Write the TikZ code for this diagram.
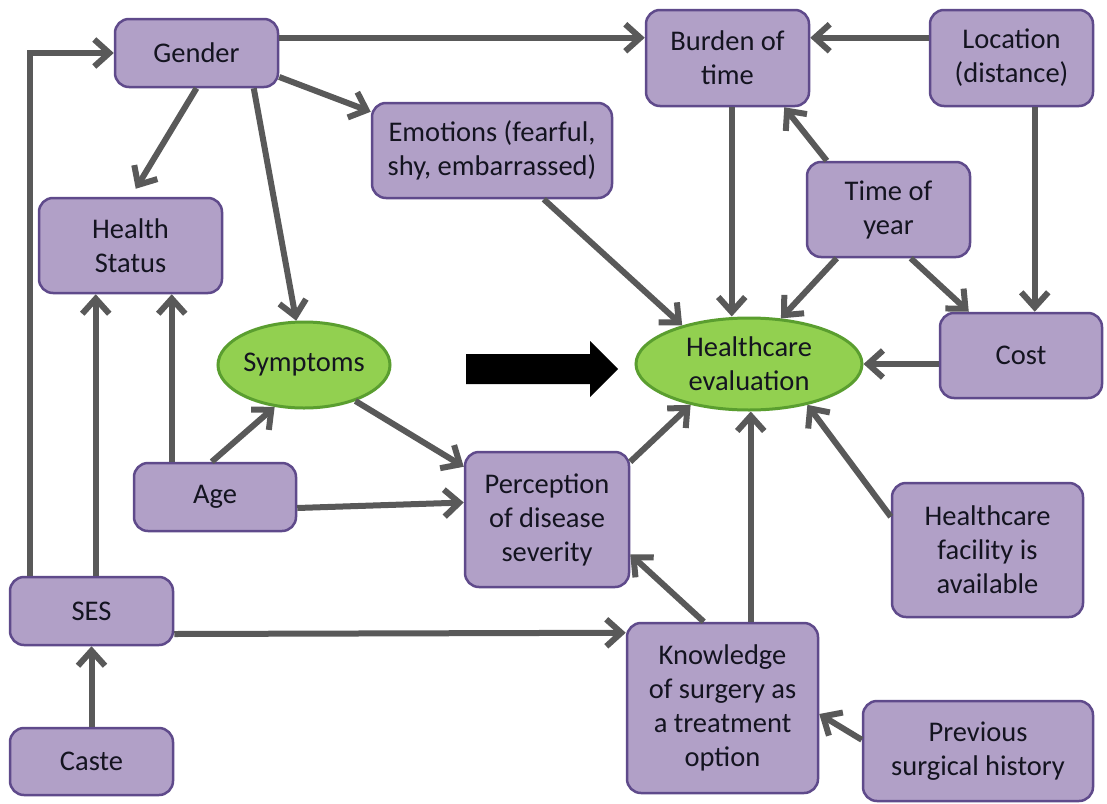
\documentclass[tikz,border=0pt]{standalone}
\usepackage{fontspec}
\setmainfont{Carlito}
\usetikzlibrary{arrows.meta,shapes.geometric,calc}
\definecolor{boxfill}{HTML}{B1A0C7}
\definecolor{boxline}{HTML}{5F4A8B}
\definecolor{ovalfill}{HTML}{92D050}
\definecolor{ovalline}{HTML}{5A9E2F}
\definecolor{linkgray}{HTML}{595959}
\definecolor{labeltext}{HTML}{141420}
\begin{document}
\begin{tikzpicture}[x=1pt,y=-1pt,
  every node/.style={font=\fontsize{28.5}{34}\selectfont, text=labeltext, align=center},
  sz/.style 2 args={minimum width=#1pt, minimum height=#2pt},
  box/.style={draw=boxline, fill=boxfill, line width=2.5pt, rounded corners=14pt, inner sep=0pt},
  oval/.style={ellipse, draw=ovalline, fill=ovalfill, line width=3pt, inner sep=0pt},
  link/.style={draw=linkgray, line width=6pt, -{Straight Barb[length=15pt,width=27pt]}},
]
\useasboundingbox (0,0) rectangle (1107,803);
\fill[white] (0,0) rectangle (1107,803);

% factor boxes
\node[box, sz={163}{68}]  (gender)    at (196.5,53)   {Gender};
\node[box, sz={163}{96}]  (burden)    at (727.5,58)   {Burden of\\time};
\node[box, sz={163}{96}]  (location)  at (1011.5,58)  {Location\\(distance)};
\node[box, sz={240}{95}]  (emotions)  at (492,150.5)  {Emotions (fearful,\\shy, embarrassed)};
\node[box, sz={183}{95}]  (health)    at (130.5,245.5){Health\\Status};
\node[box, sz={163}{95}]  (timeyear)  at (888.5,209.5){Time of\\year};
\node[box, sz={162}{85}]  (cost)      at (1021,355.5) {Cost};
\node[box, sz={162}{68}]  (age)       at (215,497)    {Age};
\node[box, sz={164}{135}] (perception)at (547,519.5)  {Perception\\of disease\\severity};
\node[box, sz={191}{134}] (facility)  at (987.5,550)  {Healthcare\\facility is\\available};
\node[box, sz={163}{68}]  (ses)       at (91.5,611)   {SES};
\node[box, sz={163}{67}]  (caste)     at (91.5,761.5) {Caste};
\node[box, sz={191}{170}] (knowledge) at (722.5,708)  {Knowledge\\of surgery as\\a treatment\\option};
\node[box, sz={230}{100}] (previous)  at (978,751)    {Previous\\surgical history};

% outcome ovals
\node[oval, sz={172}{86}] (symptoms) at (304,365) {Symptoms};
\node[oval, sz={226}{92}] (hce)      at (749,364) {Healthcare\\evaluation};

% solid block arrow between the ovals
\fill[black] (466,354) -- (590,354) -- (590,341) -- (618,369)
  -- (590,397) -- (590,384) -- (466,384) -- cycle;

% helper points on node borders
\path ($(ses.north west)+(87,0)$)     coordinate (sesHS)
      ($(age.north west)+(39,0)$)     coordinate (ageHS)
      ($(burden.south west)+(87,0)$)  coordinate (burHC)
      ($(location.south west)+(106,0)$) coordinate (locC)
      ($(knowledge.north west)+(125,0)$) coordinate (knoHC);

% connectors
\draw[link] ($(ses.north west)+(21,0)$) |- (gender.west);
\draw[link] (sesHS) -- (sesHS |- health.south);
\draw[link] (ageHS) -- (ageHS |- health.south);
\draw[link] ($(age.north west)+(79,0)$) -- (symptoms.235);
\draw[link] ($(age.east)+(0,11)$) -- ($(perception.west)+(0,-17)$);
\draw[link] (symptoms.-35) -- ($(perception.north west)+(0,16)$);
\draw[link] (gender.south) -- ($(health.north west)+(98,-8)$);
\draw[link] ($(gender.south west)+(140,0)$) -- (symptoms.100);
\draw[link] ($(gender.east)+(0,24)$) -- ($(emotions.north west)+(0,10)$);
\draw[link] ($(gender.north east)+(0,20)$) -- ($(burden.north west)+(0,29)$);
\draw[link] ($(location.north west)+(0,29)$) -- ($(burden.north east)+(0,29)$);
\draw[link] ($(timeyear.north west)+(21,0)$) -- ($(burden.south east)+(-26,0)$);
\draw[link] (burHC) -- (burHC |- hce.north);
\draw[link] ($(emotions.south west)+(173,0)$) -- (hce.150);
\draw[link] ($(timeyear.south west)+(31,0)$) -- (hce.55);
\draw[link] ($(timeyear.south west)+(105,0)$) -- ($(cost.north west)+(30,0)$);
\draw[link] (locC) -- (locC |- cost.north);
\draw[link] (cost.west |- hce.east) -- (hce.east);
\draw[link] ($(perception.north east)+(0,11)$) -- (hce.215);
\draw[link] (knoHC) -- (knoHC |- hce.south);
\draw[link] ($(facility.north west)+(0,35)$) -- (hce.-35);
\draw[link] ($(knowledge.north west)+(78,0)$) -- ($(perception.south east)+(0,-34)$);
\draw[link] ($(previous.north west)+(0,40)$) -- ($(knowledge.east)+(0,6)$);
\draw[link] ($(ses.east)+(0,23)$) -- ($(knowledge.north west)+(0,11)$);
\draw[link] (caste.north) -- (ses.south);
\end{tikzpicture}
\end{document}
